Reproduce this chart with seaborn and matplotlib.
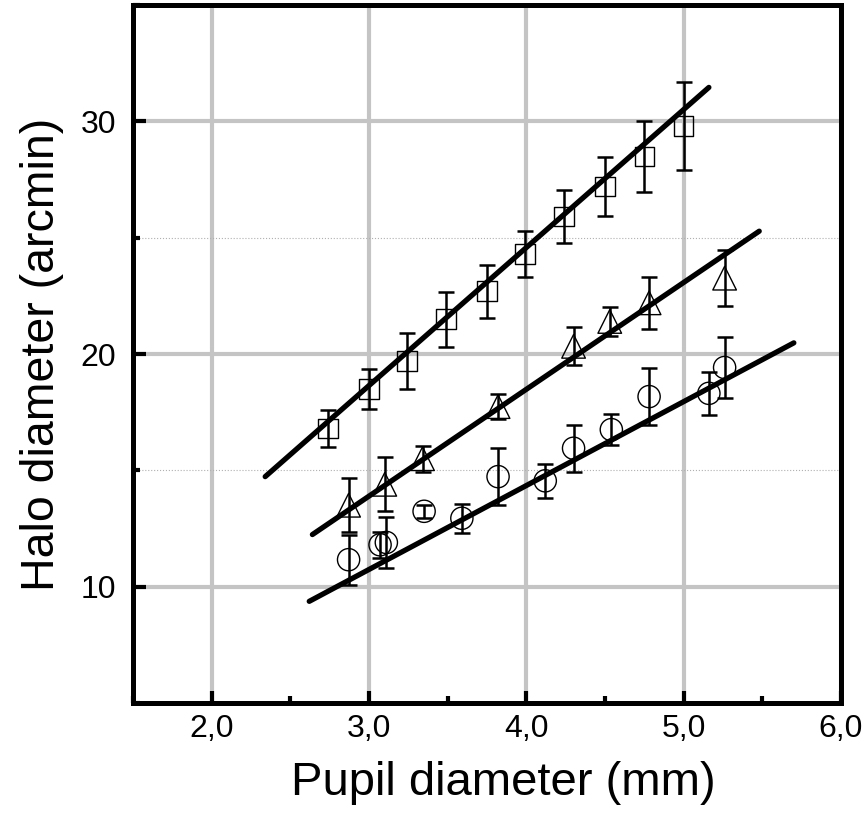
"""
Halo diameter vs pupil diameter
"""

import numpy as np
import pandas as pd
import seaborn as sns
import matplotlib.pyplot as plt
from matplotlib.ticker import MultipleLocator, FuncFormatter

sns.set_style('white')
plt.rcParams['font.family'] = ['Liberation Sans', 'DejaVu Sans']
plt.rcParams['text.color'] = 'black'
plt.rcParams['axes.labelcolor'] = 'black'
plt.rcParams['xtick.color'] = 'black'
plt.rcParams['ytick.color'] = 'black'

# squares
sq_x = [2.74, 3.00, 3.24, 3.49, 3.75, 3.99, 4.24, 4.50, 4.75, 5.00]
sq_y = [16.8, 18.5, 19.7, 21.5, 22.7, 24.3, 25.9, 27.2, 28.5, 29.8]
sq_err = [0.8, 0.85, 1.2, 1.18, 1.14, 0.99, 1.14, 1.27, 1.53, 1.91]

# triangles
tr_x = [2.87, 3.10, 3.34, 3.82, 4.30, 4.53, 4.78, 5.26]
tr_y = [13.5, 14.4, 15.5, 17.74, 20.33, 21.4, 22.2, 23.26]
tr_err = [1.16, 1.16, 0.56, 0.55, 0.82, 0.62, 1.13, 1.2]

# circles
ci_x = [2.87, 3.07, 3.11, 3.35, 3.59, 3.82, 4.12, 4.30, 4.54, 4.78, 5.16, 5.26]
ci_y = [11.16, 11.8, 11.9, 13.24, 12.94, 14.73, 14.55, 15.95, 16.75, 18.17, 18.31, 19.42]
ci_err = [1.08, 0.57, 1.08, 0.28, 0.63, 1.24, 0.73, 1.02, 0.67, 1.23, 0.91, 1.33]

# fitted lines: (x start, x end, y start, y end)
fit_sq = [2.34, 5.16, 14.73, 31.46]
fit_tr = [2.64, 5.48, 12.24, 25.28]
fit_ci = [2.62, 5.70, 9.37, 20.48]

x_ticks = [2.0, 3.0, 4.0, 5.0, 6.0]
y_ticks = [10, 20, 30]

series = [
    (sq_x, sq_y, sq_err, 's', 14, fit_sq),
    (tr_x, tr_y, tr_err, '^', 17, fit_tr),
    (ci_x, ci_y, ci_err, 'o', 16, fit_ci),
]

fig = plt.figure(figsize=(8.65, 8.13), dpi=100)
ax = fig.add_axes([0.1538, 0.1353, 0.8185, 0.8585])

ax.set_xlim(1.5, 6.0)
ax.set_ylim(5, 35)
ax.xaxis.set_major_locator(MultipleLocator(1.0))
ax.xaxis.set_minor_locator(MultipleLocator(0.5))
ax.yaxis.set_major_locator(MultipleLocator(10))
ax.yaxis.set_minor_locator(MultipleLocator(5))
ax.set_xticks(x_ticks)
ax.set_yticks(y_ticks)
ax.xaxis.set_major_formatter(FuncFormatter(lambda v, p: f'{v:.1f}'.replace('.', ',')))

ax.grid(which='major', color='#c4c4c4', lw=3, zorder=0)
ax.grid(which='minor', axis='y', color='#b0b0b0', lw=0.8, ls=':', zorder=0)
ax.grid(which='minor', axis='x', visible=False)
ax.set_axisbelow(True)

for xs, ys, errs, mk, ms, fit in series:
    ax.errorbar(xs, ys, yerr=errs, fmt='none', ecolor='black', elinewidth=1.8,
                capsize=5.5, capthick=1.8, zorder=3)
    df = pd.DataFrame({'x': xs, 'y': ys})
    sns.scatterplot(data=df, x='x', y='y', marker=mk, s=ms ** 2, facecolor='none',
                    edgecolor='black', linewidth=1.0, ax=ax, zorder=4)
    line = pd.DataFrame({'x': fit[:2], 'y': fit[2:]})
    sns.lineplot(data=line, x='x', y='y', color='black', lw=3.8, ax=ax, zorder=5)

for side in ['left', 'right', 'top', 'bottom']:
    ax.spines[side].set_visible(True)
    ax.spines[side].set_color('black')
    ax.spines[side].set_linewidth(3.6)

ax.tick_params(which='major', direction='in', length=9, width=3, labelsize=23,
               bottom=True, left=True, top=False, right=False, pad=8)
ax.tick_params(which='minor', direction='in', length=5, width=3,
               bottom=True, left=True, top=False, right=False)
ax.tick_params(axis='y', which='major', pad=12)

ax.set_xlabel('Pupil diameter (mm)', fontsize=34, labelpad=12)
ax.set_ylabel('Halo diameter (arcmin)', fontsize=33.5, labelpad=12)
ax.xaxis.label.set_x(0.523)

fig.savefig('out.png', dpi=100)
